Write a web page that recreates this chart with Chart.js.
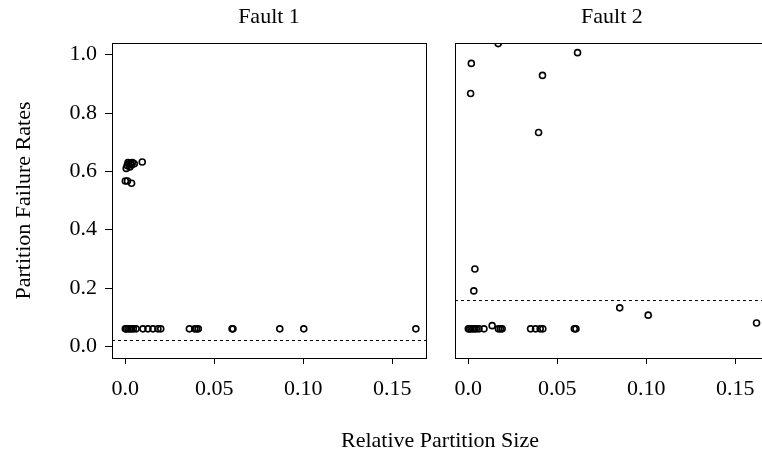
<!DOCTYPE html>
<html>
<head>
<meta charset="utf-8">
<script src="https://cdn.jsdelivr.net/npm/chart.js@4.4.1/dist/chart.umd.min.js"></script>
<style>
  html, body { margin: 0; padding: 0; background: #fff; overflow: hidden; }
  #wrap { position: relative; width: 762px; height: 450px; overflow: hidden; }
  canvas { position: absolute; top: 0; }
  #c1 { left: 0; }
  #c2 { left: 442px; }
  #xtitle { position: absolute; left: 240px; width: 400px; top: 429px; text-align: center;
            font: 22px/22px 'Liberation Serif', serif; color: #000; }
</style>
</head>
<body>
<div id="wrap">
  <canvas id="c1" width="440" height="450"></canvas>
  <canvas id="c2" width="333" height="450"></canvas>
  <div id="xtitle">Relative Partition Size</div>
</div>
<script>
// ═══ data ═══
const panelTitles = ['Fault 1', 'Fault 2'];
const yTitle = 'Partition Failure Rates';

const fault1X = [0.0, 0.0005, 0.0015, 0.0025, 0.0035, 0.0045, 0.006, 0.0099, 0.0127, 0.0155, 0.0183, 0.0199,
                 0.036, 0.039, 0.040, 0.041, 0.060, 0.0605, 0.0868, 0.1003, 0.1633,
                 0.0005, 0.001, 0.0015, 0.002, 0.0025, 0.003, 0.0035, 0.004, 0.005, 0.0095,
                 0.0, 0.0012, 0.0035];
const fault1Y = [0.06, 0.06, 0.06, 0.06, 0.06, 0.06, 0.06, 0.06, 0.06, 0.06, 0.06, 0.06,
                 0.06, 0.06, 0.06, 0.06, 0.06, 0.06, 0.06, 0.06, 0.06,
                 0.61, 0.62, 0.63, 0.625, 0.615, 0.628, 0.622, 0.63, 0.626, 0.632,
                 0.567, 0.567, 0.559];

const fault2X = [0.0, 0.0006, 0.0015, 0.0025, 0.0035, 0.0045, 0.006, 0.0088, 0.0169, 0.018, 0.019,
                 0.035, 0.0378, 0.0404, 0.0419, 0.0596, 0.0605,
                 0.0168, 0.0017, 0.0614, 0.0417, 0.0013, 0.0395, 0.0037, 0.0031,
                 0.0851, 0.1011, 0.162, 0.0134];
const fault2Y = [0.06, 0.06, 0.06, 0.06, 0.06, 0.06, 0.06, 0.06, 0.06, 0.06, 0.06,
                 0.06, 0.06, 0.06, 0.06, 0.06, 0.06,
                 1.038, 0.970, 1.007, 0.929, 0.867, 0.733, 0.265, 0.19,
                 0.132, 0.107, 0.080, 0.071];

const refLines = [0.02, 0.157];

const xTickValues = [0, 0.05, 0.10, 0.15];
const xTickLabels = ['0.0', '0.05', '0.10', '0.15'];
const yTickValues = [0, 0.2, 0.4, 0.6, 0.8, 1.0];
const yTickLabels = ['0.0', '0.2', '0.4', '0.6', '0.8', '1.0'];
const xRange = [-0.0075, 0.169];
const yRange = [-0.04, 1.04];

Chart.defaults.font.family = "'Liberation Serif', 'Times New Roman', serif";
Chart.defaults.font.size = 22;
Chart.defaults.color = '#000';

// panel box
const framePlugin = {
    id: 'frame',
    afterDraw(chart) {
        const a = chart.chartArea, ctx = chart.ctx;
        ctx.save();
        ctx.strokeStyle = '#000';
        ctx.lineWidth = 1;
        ctx.strokeRect(Math.round(a.left) + 0.5, Math.round(a.top) + 0.5,
                       Math.round(a.right - a.left), Math.round(a.bottom - a.top));
        ctx.restore();
    }
};

function makePanel(id, title, xs, ys, ref, showY, pad) {
    const pts = xs.map((x, i) => ({ x: x, y: ys[i] }));

    return new Chart(document.getElementById(id), {
        type: 'scatter',
        data: {
            datasets: [{
                data: pts,
                pointStyle: 'circle',
                pointRadius: 3,
                pointBorderWidth: 1.6,
                borderColor: '#000',
                backgroundColor: 'rgba(0,0,0,0)',
                clip: 0
            }, {
                type: 'line',
                data: [{ x: xRange[0], y: ref }, { x: xRange[1], y: ref }],
                showLine: true,
                borderColor: '#000',
                borderWidth: 1,
                borderDash: [3, 3],
                pointRadius: 0,
                clip: 0
            }]
        },
        options: {
            responsive: false,
            animation: false,
            layout: { padding: pad },
            plugins: {
                legend: { display: false },
                tooltip: { enabled: false },
                title: {
                    display: true, text: title, fullSize: false,
                    font: { size: 22, weight: 'normal' },
                    padding: { top: 4, bottom: 12.6 }
                }
            },
            scales: {
                x: {
                    type: 'linear', min: xRange[0], max: xRange[1],
                    afterBuildTicks: s => { s.ticks = xTickValues.map(v => ({ value: v })); },
                    afterFit: s => { s.height = 92; },
                    ticks: { callback: (v, i) => xTickLabels[i], padding: 12, maxRotation: 0, autoSkip: false },
                    grid: { drawOnChartArea: false, tickLength: 6, tickColor: '#000' },
                    border: { display: false }
                },
                y: {
                    display: showY, min: yRange[0], max: yRange[1],
                    afterBuildTicks: s => { s.ticks = yTickValues.map(v => ({ value: v })); },
                    afterFit: s => { s.width = showY ? 112 : 0; },
                    ticks: { callback: (v, i) => yTickLabels[i], padding: 8, autoSkip: false },
                    grid: { drawOnChartArea: false, tickLength: 7, tickColor: '#000' },
                    border: { display: false },
                    title: { display: true, text: yTitle, font: { size: 22 }, padding: { top: 11, bottom: 0 } }
                }
            }
        },
        plugins: [framePlugin]
    });
}

makePanel('c1', panelTitles[0], fault1X, fault1Y, refLines[0], true,  { left: 0,  right: 14, top: 0, bottom: 0 });
makePanel('c2', panelTitles[1], fault2X, fault2Y, refLines[1], false, { left: 10, right: 6,  top: 0, bottom: 0 });
</script>
</body>
</html>
